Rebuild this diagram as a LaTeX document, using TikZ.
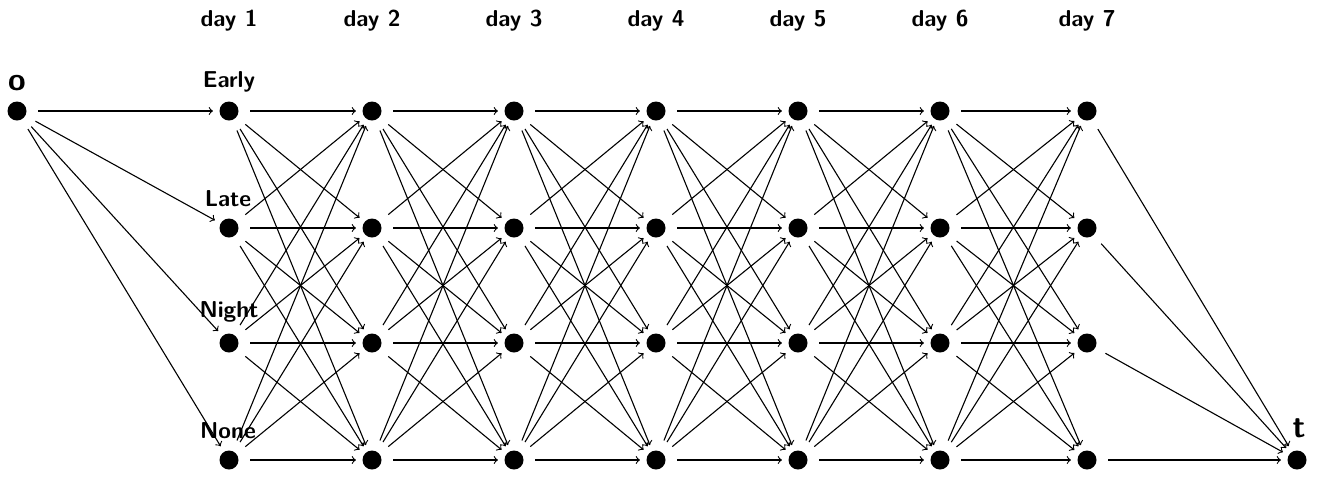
\documentclass[tikz,border=0pt]{standalone}
\begin{document}
\begin{tikzpicture}[x=0.5pt,y=-0.5pt,
  dot/.style={circle,fill=black,inner sep=0pt,minimum size=9.5pt,outer sep=0pt},
  arc/.style={->,shorten <=5.8pt,shorten >=3.3pt,line width=0.55pt},
  lab/.style={font=\fontsize{11.5}{13}\sffamily\bfseries,inner sep=0pt,anchor=base},
  biglab/.style={font=\fontsize{16}{18}\sffamily\bfseries,inner sep=0pt,anchor=base}]
\useasboundingbox (0,0) rectangle (1324,479);
\foreach \i/\x in {1/229,2/372,3/514,4/656,5/798,6/940,7/1087}{
  \node[lab] (day\i) at (\x,26) {day \i};
  \foreach \r/\y in {1/111,2/228,3/343,4/460}
    \node[dot] (n\i\r) at (\x,\y) {};
}
\node[dot] (o) at (17,111) {};
\node[biglab] (olab) at (17,90) {o};
\node[dot] (t) at (1297,460) {};
\node[biglab] (tlab) at (1299,437) {t};
\node[lab] (early) at (229,87) {Early};
\node[lab] (late) at (228,206) {Late};
\node[lab] (night) at (229,317) {Night};
\node[lab] (none) at (228,438) {None};
\foreach \r in {1,...,4}{
  \draw[arc] (o) -- (n1\r);
  \draw[arc] (n7\r) -- (t);
}
\foreach \i in {1,...,6}{
  \pgfmathtruncatemacro\j{\i+1}
  \foreach \r in {1,...,4}
    \foreach \s in {1,...,4}
      \draw[arc] (n\i\r) -- (n\j\s);
}
\end{tikzpicture}
\end{document}
